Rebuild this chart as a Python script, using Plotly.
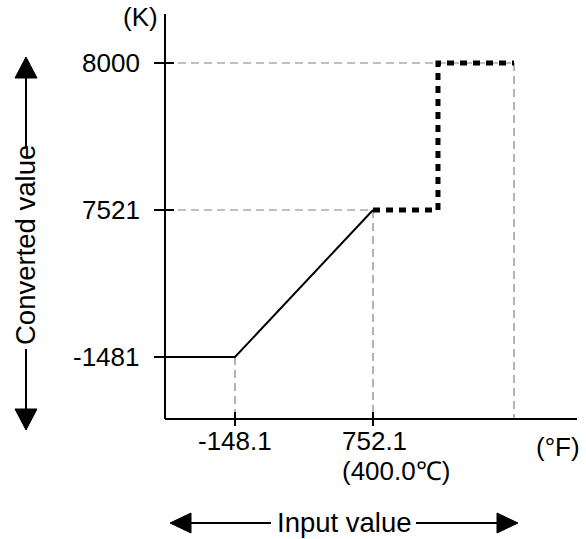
import plotly.graph_objects as go

# ---------------- data ----------------
input_ticks = [-148.1, 752.1]            # °F
input_tick_text = ["-148.1", "752.1"]
celsius_note = "(400.0℃)"
converted_ticks = [-1481, 7521, 8000]     # K
converted_tick_text = ["-1481", "7521", "8000"]
step_input = 1176                         # unlabeled step position (°F, estimated)
end_input = 1672                          # unlabeled right end (°F, estimated)

# ---------------- layout geometry (pixels) ----------------
W, H = 586, 539
PX_XA, PX_XB = 235, 373          # pixel columns of the two input ticks
PX_Y0, PX_Y2 = 357, 63           # pixel rows of first and last converted ticks
AX_LEFT, AX_BOTTOM = 165, 419    # axis origin
AX_TOP, AX_RIGHT = 14, 577

kx = (input_ticks[1] - input_ticks[0]) / (PX_XB - PX_XA)
ky = (PX_Y0 - PX_Y2) / (len(converted_ticks) - 1)

def xd(p):
    return input_ticks[0] + (p - PX_XA) * kx

def yd(p):
    return (PX_Y0 - p) / ky

def lev(v):
    return converted_ticks.index(v)

def pxp(p):
    return p / W

def pyp(p):
    return 1 - p / H

x0, y0 = xd(AX_LEFT), yd(AX_BOTTOM)
BLACK = "#000000"
GUIDE = "#808080"
FAMILY = "Liberation Sans, Arial, sans-serif"
FONT = dict(family=FAMILY, size=26, color=BLACK)
FONT_W = dict(family=FAMILY, size=27.5, color=BLACK)

fig = go.Figure()

# guide lines (dashed gray)
guides = [
    ([x0, end_input], [lev(8000), lev(8000)]),
    ([x0, input_ticks[1]], [lev(7521), lev(7521)]),
    ([input_ticks[0], input_ticks[0]], [lev(-1481), y0]),
    ([input_ticks[1], input_ticks[1]], [lev(7521), y0]),
    ([end_input, end_input], [lev(8000), y0]),
]
for gx, gy in guides:
    fig.add_trace(go.Scatter(x=gx, y=gy, mode="lines",
                             line=dict(color=GUIDE, width=1.2, dash="8px,5px"),
                             hoverinfo="skip"))

# axes
fig.add_trace(go.Scatter(x=[x0, x0], y=[yd(AX_TOP), y0], mode="lines",
                         line=dict(color=BLACK, width=2), hoverinfo="skip"))
fig.add_trace(go.Scatter(x=[x0, xd(AX_RIGHT)], y=[y0, y0], mode="lines",
                         line=dict(color=BLACK, width=2), hoverinfo="skip"))

# tick marks crossing the axes
for v in converted_ticks:
    fig.add_trace(go.Scatter(x=[xd(154), xd(174)], y=[lev(v), lev(v)], mode="lines",
                             line=dict(color=BLACK, width=2), hoverinfo="skip"))
for v in input_ticks:
    fig.add_trace(go.Scatter(x=[v, v], y=[yd(412), yd(426)], mode="lines",
                             line=dict(color=BLACK, width=2), hoverinfo="skip"))

# conversion characteristic (solid)
fig.add_trace(go.Scatter(
    x=[x0, input_ticks[0], input_ticks[1]],
    y=[lev(-1481), lev(-1481), lev(7521)],
    mode="lines", line=dict(color=BLACK, width=2), hoverinfo="skip"))

# out-of-range step (thick dotted)
fig.add_trace(go.Scatter(
    x=[input_ticks[1], step_input, step_input, end_input],
    y=[lev(7521), lev(7521), lev(8000), lev(8000)],
    mode="lines", line=dict(color=BLACK, width=5, dash="7px,6px"), hoverinfo="skip"))

# ---------------- text ----------------
ann = []
for v, t in zip(converted_ticks, converted_tick_text):
    ann.append(dict(x=pxp(142), y=lev(v), xref="paper", yref="y", text=t,
                    showarrow=False, xanchor="right", yanchor="middle", font=FONT))
ann.append(dict(x=input_ticks[0], y=pyp(441), xref="x", yref="paper",
                text=input_tick_text[0], showarrow=False,
                xanchor="center", yanchor="middle", font=FONT))
ann.append(dict(x=pxp(340), y=pyp(441), xref="paper", yref="paper",
                text=input_tick_text[1], showarrow=False,
                xanchor="left", yanchor="middle", font=FONT))
ann.append(dict(x=pxp(340), y=pyp(471), xref="paper", yref="paper",
                text=celsius_note, showarrow=False,
                xanchor="left", yanchor="middle", font=FONT))
ann.append(dict(x=pxp(140), y=pyp(17), xref="paper", yref="paper", text="(K)",
                showarrow=False, xanchor="center", yanchor="middle", font=FONT))
ann.append(dict(x=pxp(558), y=pyp(447), xref="paper", yref="paper", text="(°F)",
                showarrow=False, xanchor="center", yanchor="middle", font=FONT))
ann.append(dict(x=pxp(344), y=pyp(522), xref="paper", yref="paper", text="Input value",
                showarrow=False, xanchor="center", yanchor="middle", font=FONT_W))
ann.append(dict(x=pxp(25), y=pyp(245), xref="paper", yref="paper", text="Converted value",
                showarrow=False, xanchor="center", yanchor="middle", textangle=-90, font=FONT_W))

# ---------------- direction arrows (decoration, paper coords) ----------------
shapes = []
def seg(xa, ya, xb, yb):
    shapes.append(dict(type="line", xref="paper", yref="paper",
                       x0=pxp(xa), y0=pyp(ya), x1=pxp(xb), y1=pyp(yb),
                       line=dict(color=BLACK, width=2)))
def tri(pts):
    path = "M " + " L ".join(f"{pxp(a)},{pyp(b)}" for a, b in pts) + " Z"
    shapes.append(dict(type="path", xref="paper", yref="paper", path=path,
                       fillcolor=BLACK, line=dict(color=BLACK, width=1)))

seg(26, 76, 26, 147)
seg(26, 349, 26, 411)
tri([(26, 57), (15, 78), (37, 78)])
tri([(26, 430), (15, 409), (37, 409)])
seg(189, 523, 271, 523)
seg(416, 523, 499, 523)
tri([(170, 523), (191, 513), (191, 533)])
tri([(518, 523), (497, 513), (497, 533)])

fig.update_layout(
    width=W, height=H,
    margin=dict(l=0, r=0, t=0, b=0),
    paper_bgcolor="white", plot_bgcolor="white",
    showlegend=False,
    xaxis=dict(range=[xd(0), xd(W)], visible=False, fixedrange=True),
    yaxis=dict(range=[yd(H), yd(0)], visible=False, fixedrange=True),
    annotations=ann, shapes=shapes,
)

fig.write_html("out.html",
               config={"displayModeBar": False},
               post_script="document.body.style.margin='0';"
                           "document.body.style.overflow='hidden';")
